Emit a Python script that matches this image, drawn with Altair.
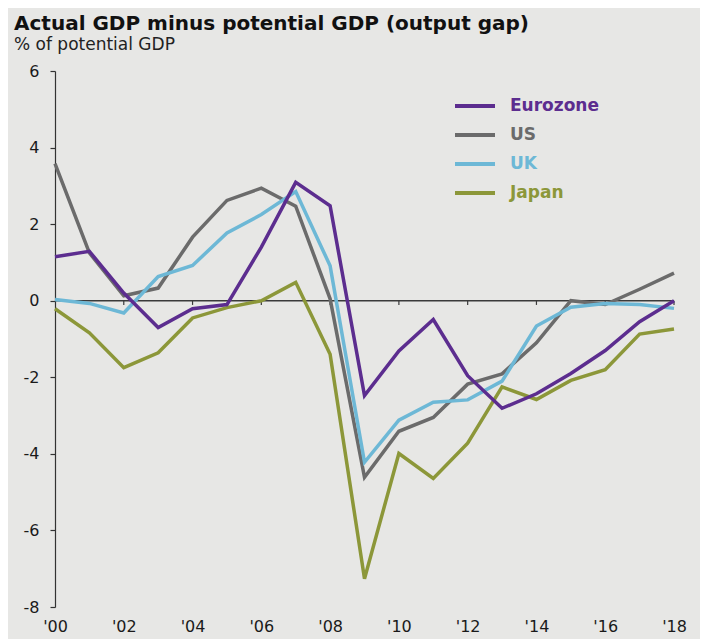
import altair as alt
import pandas as pd

# ---- data ----
years = list(range(2000, 2019))
eurozone = [1.15, 1.29, 0.20, -0.70, -0.21, -0.10, 1.40, 3.09, 2.48, -2.48,
            -1.31, -0.49, -1.96, -2.81, -2.43, -1.90, -1.30, -0.55, 0.00]
us = [3.58, 1.25, 0.13, 0.33, 1.66, 2.62, 2.94, 2.47, 0.05, -4.61,
      -3.41, -3.05, -2.18, -1.91, -1.10, 0.00, -0.10, 0.30, 0.72]
uk = [0.03, -0.07, -0.32, 0.63, 0.92, 1.77, 2.25, 2.85, 0.91, -4.22,
      -3.12, -2.65, -2.59, -2.10, -0.66, -0.17, -0.07, -0.10, -0.20]
japan = [-0.21, -0.84, -1.75, -1.36, -0.45, -0.18, 0.00, 0.48, -1.40, -7.26,
         -3.99, -4.64, -3.72, -2.25, -2.58, -2.08, -1.80, -0.87, -0.74]

series_names = ["Eurozone", "US", "UK", "Japan"]
series_colors = ["#5c2d8f", "#6b6b6b", "#6db8d6", "#8c9739"]
x_tick_years = [2000, 2002, 2004, 2006, 2008, 2010, 2012, 2014, 2016, 2018]
zero_tick_years = [2002, 2004, 2006, 2008, 2010, 2012, 2014, 2016, 2018]
y_ticks = [-8, -6, -4, -2, 0, 2, 4, 6]

title_text = "Actual GDP minus potential GDP (output gap)"
subtitle_text = "% of potential GDP"

# ---- tables ----
rows = []
for name, vals in [("Japan", japan), ("US", us), ("UK", uk), ("Eurozone", eurozone)]:
    for yr, v in zip(years, vals):
        rows.append({"year": yr, "country": name, "gap": v})
df = pd.DataFrame(rows)
zero_df = pd.DataFrame({"v": [0]})
tick_df = pd.DataFrame({"year": zero_tick_years, "top": [0.0] * len(zero_tick_years),
                        "bottom": [-0.11] * len(zero_tick_years)})

FONT = "DejaVu Sans"
TXT = "#1a1a1a"

x_scale = alt.Scale(domain=[2000, 2018], nice=False, zero=False)
y_scale = alt.Scale(domain=[-8, 6], nice=False, zero=False)

x_axis = alt.Axis(values=x_tick_years, labelExpr="\"'\" + substring(toString(datum.value), 2)",
                  domain=False, ticks=False, grid=False, title=None, labelFlush=False,
                  labelFont=FONT, labelFontSize=16, labelColor=TXT, labelPadding=11)
y_axis = alt.Axis(values=y_ticks, grid=False, title=None, domainColor="#333333",
                  tickColor="#333333", tickSize=5, domainWidth=1.2, tickWidth=1.2,
                  labelFlush=False, labelExpr="toString(datum.value)",
                  labelFont=FONT, labelFontSize=16, labelColor=TXT, labelPadding=11)

zero_line = alt.Chart(zero_df).mark_rule(color="#3a3a3a", strokeWidth=1.5).encode(
    y=alt.Y("v:Q", scale=y_scale, axis=y_axis)
)
zero_ticks = alt.Chart(tick_df).mark_rule(color="#3a3a3a", strokeWidth=1.2).encode(
    x=alt.X("year:Q", scale=x_scale, axis=x_axis),
    y=alt.Y("top:Q", scale=y_scale, axis=y_axis),
    y2="bottom:Q",
)

lines = alt.Chart(df).mark_line(strokeWidth=3.5, strokeJoin="miter").encode(
    x=alt.X("year:Q", scale=x_scale, axis=x_axis),
    y=alt.Y("gap:Q", scale=y_scale, axis=y_axis),
    color=alt.Color(
        "country:N",
        scale=alt.Scale(domain=series_names, range=series_colors),
        legend=alt.Legend(
            title=None, orient="none", legendX=398, legendY=25, padding=0,
            symbolType="stroke", symbolSize=1600, symbolStrokeWidth=4,
            labelFont=FONT, labelFontSize=17, labelFontWeight="bold",
            labelColor=alt.ExprRef("scale('color', datum.value)"),
            labelOffset=13, clipHeight=20, rowPadding=9,
        ),
    ),
)

chart = alt.layer(zero_line, zero_ticks, lines).properties(
    width=619,
    height=536,
    autosize=alt.AutoSizeParams(type="none"),
    padding={"left": 47, "top": 63, "right": 26, "bottom": 32},
    background="#e7e7e5",
    title=alt.TitleParams(
        text=title_text, subtitle=subtitle_text, anchor="start", frame="group",
        orient="top", font=FONT, fontSize=20, fontWeight="bold", color="#111111",
        subtitleFont=FONT, subtitleFontSize=17, subtitleColor="#222222",
        subtitlePadding=3, dx=-41, offset=10,
    ),
).configure_view(stroke=None)

chart.save("out.html", embed_options={"renderer": "svg", "actions": False})
